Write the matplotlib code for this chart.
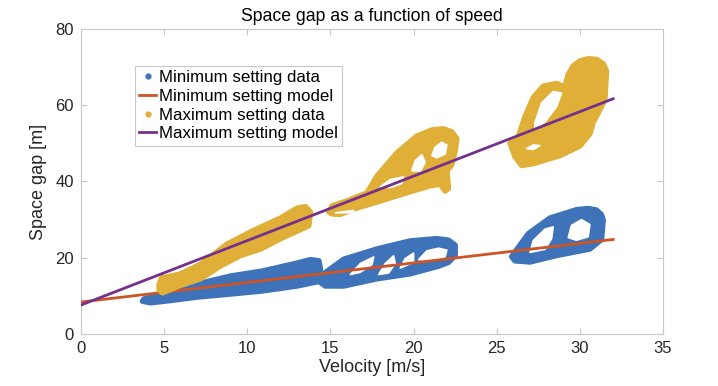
import matplotlib.pyplot as plt
from matplotlib.lines import Line2D

plt.rcParams['font.family'] = ['Liberation Sans', 'DejaVu Sans']

c_min = '#3f73b9'
c_min_model = '#cd5425'
c_max = '#e0af37'
c_max_model = '#74308c'

# minimum setting data (speed m/s, gap m)
# cluster around 4-14 m/s
min_a_v = [3.8, 5.2, 7.0, 9.0, 10.9, 13.0, 13.8, 14.3, 14.4, 14.2, 13.0, 10.9, 9.0, 7.0, 5.2, 4.2, 3.7]
min_a_gap = [9.2, 11.2, 13.1, 15.2, 16.5, 18.6, 19.5, 19.2, 17.0, 13.7, 12.6, 11.3, 10.5, 9.7, 8.7, 8.2, 8.6]
# cluster around 15-22 m/s and its gaps
min_b_v = [14.3, 14.5, 15.8, 17.8, 19.8, 21.4, 22.1, 22.5, 22.5, 22.1, 21.5, 19.8, 17.8, 15.8, 14.7]
min_b_gap = [13.8, 15.5, 19.6, 22.3, 24.4, 25.0, 24.6, 23.3, 20.6, 18.8, 17.8, 15.8, 14.5, 12.6, 12.6]
min_b_hole1_v = [16.2, 16.8, 17.6, 17.5, 16.8]
min_b_hole1_gap = [15.6, 18.5, 20.2, 18.2, 16.2]
min_b_hole2_v = [17.9, 18.3, 18.8, 18.9, 18.5]
min_b_hole2_gap = [15.6, 18.5, 20.5, 18.5, 16.0]
min_b_hole3_v = [19.2, 19.5, 20.0, 20.0]
min_b_hole3_gap = [17.3, 19.8, 21.2, 18.8]
min_b_hole4_v = [20.3, 20.8, 21.5, 22.0, 21.9, 21.0]
min_b_hole4_gap = [19.5, 21.8, 22.5, 22.0, 20.3, 19.2]
# cluster around 26-31 m/s and its gaps
min_c_v = [25.9, 26.9, 28.2, 29.8, 30.5, 31.0, 31.3, 31.4, 31.3, 30.6, 28.6, 27.0, 26.1]
min_c_gap = [20.3, 26.3, 30.4, 32.6, 32.9, 32.5, 31.3, 29.8, 24.8, 22.3, 20.6, 18.9, 19.2]
min_c_hole1_v = [27.0, 27.2, 27.9, 28.4, 28.3, 27.9]
min_c_hole1_gap = [21.4, 24.5, 27.5, 28.1, 25.0, 22.2]
min_c_hole2_v = [29.3, 29.5, 30.1, 30.6, 30.5, 29.8]
min_c_hole2_gap = [25.3, 28.5, 30.0, 28.7, 25.5, 24.6]

# maximum setting data
max_a_v = [4.7, 4.85, 5.95, 7.2, 8.8, 10.3, 12.0, 13.0, 13.5, 13.8, 13.7, 12.0, 10.8, 9.6, 8.4,
           7.2, 5.95, 4.9, 4.7]
max_a_gap = [13.0, 14.7, 15.7, 18.3, 23.6, 27.0, 30.4, 33.0, 33.4, 32.0, 28.4, 25.0, 22.3, 20.6,
             17.9, 14.5, 12.7, 10.8, 11.6]
max_b_v = [14.9, 15.1, 16.0, 17.2, 17.8, 19.0, 20.2, 21.1, 21.8, 22.3, 22.6, 22.5, 22.3, 22.0,
           22.1, 21.9, 21.6, 21.0, 19.4, 18.0, 16.4, 15.6, 15.1]
max_b_gap = [32.0, 33.6, 34.9, 37.0, 41.4, 47.5, 51.9, 53.5, 53.8, 53.0, 51.2, 48.0, 44.4, 42.8,
             38.2, 37.5, 39.3, 38.9, 36.8, 34.9, 32.8, 31.4, 31.5]
max_b_hole1_v = [21.1, 21.3, 21.7, 22.0, 21.9, 21.4]
max_b_hole1_gap = [46.8, 49.0, 50.3, 49.5, 47.2, 46.2]
max_b_hole2_v = [19.9, 20.1, 20.5, 20.7, 20.4]
max_b_hole2_gap = [42.8, 45.5, 47.0, 45.0, 42.7]
max_b_hole3_v = [18.0, 18.6, 19.4, 19.3, 18.6]
max_b_hole3_gap = [38.6, 40.5, 41.2, 39.5, 38.4]
max_b_hole4_v = [15.3, 16.4, 16.3]
max_b_hole4_gap = [31.8, 32.4, 31.8]
max_c_v = [30.0, 30.5, 31.0, 31.4, 31.6, 31.5, 31.1, 30.8, 30.6, 30.0, 28.8, 27.2, 26.5, 26.1,
           25.8, 26.3, 26.7, 27.2, 27.8, 28.6, 29.1, 29.3, 29.6]
max_c_gap = [71.6, 72.2, 72.0, 70.9, 69.0, 61.4, 58.0, 55.5, 52.5, 49.3, 46.8, 44.7, 44.2, 46.5,
             50.1, 51.7, 57.0, 62.0, 65.0, 65.7, 64.8, 68.0, 70.3]
max_c_hole1_v = [27.3, 27.7, 28.4, 28.9, 28.6, 27.9, 27.3]
max_c_hole1_gap = [55.4, 60.6, 63.6, 63.2, 59.6, 55.6, 53.8]
max_c_hole2_v = [26.8, 27.2, 27.6, 27.2]
max_c_hole2_gap = [48.6, 49.6, 49.4, 48.4]

# fitted models
model_v = [0, 32]
min_model_gap = [8.4, 24.8]
max_model_gap = [7.6, 61.7]

fig = plt.figure(figsize=(7.18, 3.86), dpi=100)
ax = fig.add_axes([0.1128, 0.1347, 0.8106, 0.7902])

def blob(v, gap, color, z):
    ax.fill(v, gap, color=color, lw=4, joinstyle='round', zorder=z)

def hole(v, gap, z):
    ax.fill(v, gap, color='white', lw=1.2, joinstyle='round', zorder=z)

blob(min_a_v, min_a_gap, c_min, 2)
blob(min_b_v, min_b_gap, c_min, 2)
blob(min_c_v, min_c_gap, c_min, 2)
for hv, hg in [(min_b_hole1_v, min_b_hole1_gap), (min_b_hole2_v, min_b_hole2_gap),
               (min_b_hole3_v, min_b_hole3_gap), (min_b_hole4_v, min_b_hole4_gap),
               (min_c_hole1_v, min_c_hole1_gap), (min_c_hole2_v, min_c_hole2_gap)]:
    hole(hv, hg, 2.1)
ax.plot(model_v, min_model_gap, color=c_min_model, lw=2, zorder=3)

blob(max_a_v, max_a_gap, c_max, 4)
blob(max_b_v, max_b_gap, c_max, 4)
blob(max_c_v, max_c_gap, c_max, 4)
for hv, hg in [(max_b_hole1_v, max_b_hole1_gap), (max_b_hole2_v, max_b_hole2_gap),
               (max_b_hole3_v, max_b_hole3_gap), (max_b_hole4_v, max_b_hole4_gap),
               (max_c_hole1_v, max_c_hole1_gap), (max_c_hole2_v, max_c_hole2_gap)]:
    hole(hv, hg, 4.1)
ax.plot(model_v, max_model_gap, color=c_max_model, lw=2, zorder=5)

ax.set_xlim(0, 35)
ax.set_ylim(0, 80)
ax.set_xticks(range(0, 36, 5))
ax.set_yticks(range(0, 81, 20))
for s in ax.spines.values():
    s.set_color('#c8c8c8')
    s.set_linewidth(0.8)
ax.tick_params(direction='in', length=4, color='#c8c8c8', labelsize=12,
               labelcolor='#262626', top=True, right=True, pad=5)

ax.set_title('Space gap as a function of speed', fontsize=12.7, color='black', pad=6)
ax.set_xlabel('Velocity [m/s]', fontsize=13, color='#262626', labelpad=2)
ax.set_ylabel('Space gap [m]', fontsize=13, color='#262626', labelpad=6)

handles = [
    Line2D([], [], color=c_min, marker='.', ls='none', markersize=7),
    Line2D([], [], color=c_min_model, lw=2),
    Line2D([], [], color=c_max, marker='.', ls='none', markersize=7),
    Line2D([], [], color=c_max_model, lw=2),
]
labels = ['Minimum setting data', 'Minimum setting model',
          'Maximum setting data', 'Maximum setting model']
leg = ax.legend(handles, labels, loc='upper left', bbox_to_anchor=(0.0928, 0.8787),
                borderaxespad=0, fontsize=12.2, fancybox=False, framealpha=1,
                edgecolor='#c8c8c8', handlelength=1.0, handletextpad=0.15,
                borderpad=0.25, labelspacing=0.22)
leg.get_frame().set_linewidth(0.8)

fig.savefig('out.png', dpi=100)
